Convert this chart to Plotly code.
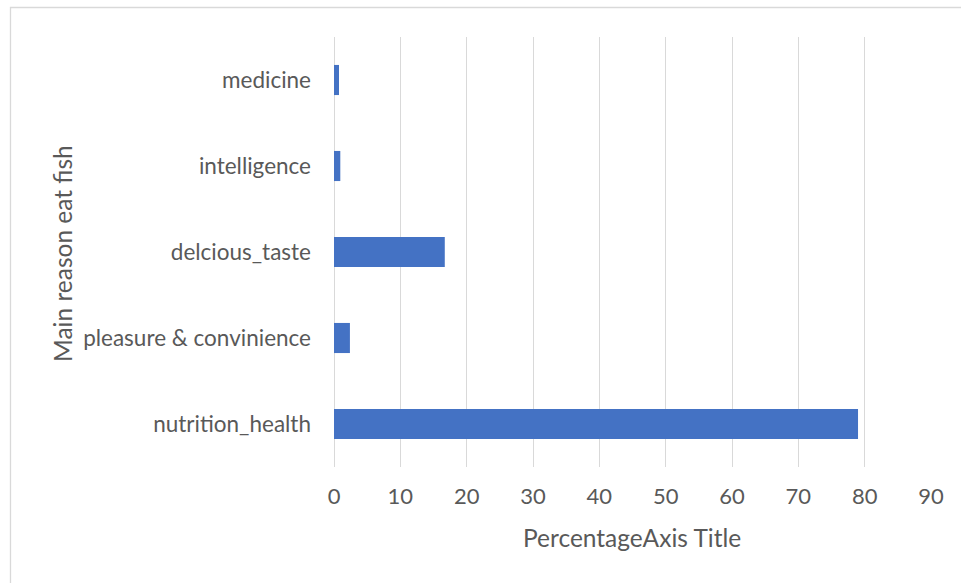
import plotly.graph_objects as go

categories = ["nutrition_health", "pleasure & convinience", "delcious_taste", "intelligence", "medicine"]
values = [79.0, 2.4, 16.7, 0.95, 0.75]
x_ticks = [0, 10, 20, 30, 40, 50, 60, 70, 80, 90]

W, H = 961, 583
L, R, T, B = 334, 30, 37, 116
pw, ph = W - L - R, H - T - B

def px_x(p):
    return (p - L) / pw

def px_y(p):
    return (H - B - p) / ph

txt = "#595959"
font = "Lato"

fig = go.Figure(go.Bar(
    x=values, y=categories, orientation="h",
    marker=dict(color="#4472C4", line=dict(width=0)),
    width=0.35,
))

fig.update_layout(
    width=W, height=H,
    margin=dict(l=L, r=R, t=T, b=B, autoexpand=False),
    paper_bgcolor="white", plot_bgcolor="white",
    showlegend=False,
    font=dict(family=font, size=22, color=txt),
    xaxis=dict(
        range=[0, 90], tickvals=x_ticks, showgrid=True, gridcolor="#d9d9d9", gridwidth=1.3,
        zeroline=True, zerolinecolor="#d9d9d9", zerolinewidth=1.3, showline=False,
        ticks="", tickfont=dict(family=font, size=22, color=txt), ticklabelstandoff=14,
        fixedrange=True,
    ),
    yaxis=dict(
        categoryorder="array", categoryarray=categories, range=[-0.5, 4.5],
        showgrid=False, zeroline=False, showline=False, ticks="",
        tickfont=dict(family=font, size=22.5, color=txt), ticklabelstandoff=22,
    ),
    annotations=[
        dict(text="PercentageAxis Title", xref="paper", yref="paper",
             x=px_x(632), y=px_y(537), xanchor="center", yanchor="middle",
             showarrow=False, font=dict(family=font, size=24.5, color=txt)),
        dict(text="Main reason eat fish", xref="paper", yref="paper",
             x=px_x(62), y=px_y(254), xanchor="center", yanchor="middle", textangle=-90,
             showarrow=False, font=dict(family=font, size=24.5, color=txt)),
    ],
    shapes=[
        dict(type="rect", xref="paper", yref="paper",
             x0=px_x(10.5), x1=px_x(975), y0=px_y(600), y1=px_y(7.5),
             line=dict(color="#d9d9d9", width=1.3), fillcolor="rgba(0,0,0,0)", layer="below"),
    ],
)

fig.write_html("out.html")
